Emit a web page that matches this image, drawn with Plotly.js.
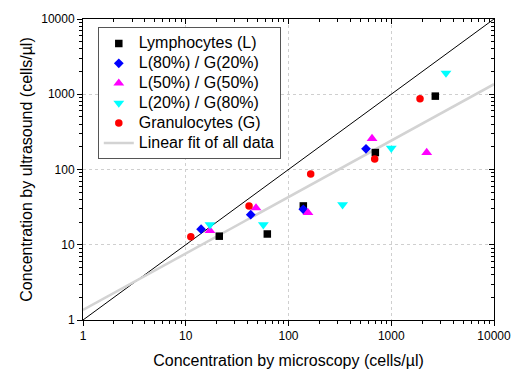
<!DOCTYPE html>
<html>
<head>
<meta charset="utf-8">
<script src="https://cdn.plot.ly/plotly-3.0.1.min.js"></script>
<style>html,body{margin:0;padding:0;background:#fff;}#chart{width:512px;height:369px;}</style>
</head>
<body>
<div id="chart"></div>
<script>
// Series data (microscopy x, ultrasound y), cells/µl
const lymphX = [21.2, 62.2, 139.4, 700, 2684];
const lymphY = [13.0, 13.9, 32.8, 168, 944];
const l80X = [14.1, 42.9, 139.4, 568];
const l80Y = [16.1, 25.1, 29.6, 188];
const l50X = [17.2, 48.3, 154.8, 650, 2213];
const l50Y = [15.4, 30.9, 26.7, 258, 168];
const l20X = [17.2, 56.9, 336, 1000, 3410];
const l20Y = [18.5, 18.5, 34.1, 192, 1909];
const granX = [11.2, 41.3, 164.5, 690, 1905];
const granY = [12.8, 32.8, 87.4, 138, 869];
// Linear fit of all data (end points) and identity line
const fitX = [1, 10000];
const fitY = [1.36, 1360];
const idX = [1, 10000];
const idY = [1, 10000];
// Tick positions and labels
const majorTicks = [1, 10, 100, 1000, 10000];
const majorLabels = ['1', '10', '100', '1000', '10000'];
const minorTicks = [2, 3, 4, 5, 6, 7, 8, 9,
                    20, 30, 40, 50, 60, 70, 80, 90,
                    200, 300, 400, 500, 600, 700, 800, 900,
                    2000, 3000, 4000, 5000, 6000, 7000, 8000, 9000];
const names = ['Lymphocytes (L)', 'L(80%) / G(20%)', 'L(50%) / G(50%)',
               'L(20%) / G(80%)', 'Granulocytes (G)', 'Linear fit of all data'];

const FONT = 'Liberation Sans, Arial, sans-serif';
const lg = s => '<span style="font-size:16px">' + s + '</span>';

const traces = [
  {x: idX, y: idY, mode: 'lines', line: {color: '#000', width: 1}, showlegend: false, hoverinfo: 'skip'},
  {x: fitX, y: fitY, mode: 'lines', name: lg(names[5]), legendrank: 6, line: {color: '#d3d3d3', width: 2.5}, hoverinfo: 'skip'},
  {x: lymphX, y: lymphY, mode: 'markers', name: lg(names[0]), legendrank: 1, marker: {symbol: 'square', color: '#000', size: 7.5}},
  {x: l80X, y: l80Y, mode: 'markers', name: lg(names[1]), legendrank: 2, marker: {symbol: 'diamond', color: '#0000ff', size: 7.5}},
  {x: l50X, y: l50Y, mode: 'markers', name: lg(names[2]), legendrank: 3, marker: {symbol: 'triangle-up', color: '#ff00ff', size: 9.5}},
  {x: l20X, y: l20Y, mode: 'markers', name: lg(names[3]), legendrank: 4, marker: {symbol: 'triangle-down', color: '#00ffff', size: 9.5}},
  {x: granX, y: granY, mode: 'markers', name: lg(names[4]), legendrank: 5, marker: {symbol: 'circle', color: '#ff0000', size: 7.5}},
  {x: [1], y: [1], xaxis: 'x2', yaxis: 'y2', mode: 'markers', marker: {opacity: 0}, showlegend: false, hoverinfo: 'skip'},
  {x: [1], y: [1], xaxis: 'x3', yaxis: 'y3', mode: 'markers', marker: {opacity: 0}, showlegend: false, hoverinfo: 'skip'},
  {x: [1], y: [1], xaxis: 'x4', yaxis: 'y4', mode: 'markers', marker: {opacity: 0}, showlegend: false, hoverinfo: 'skip'}
];

const tickAxis = (extra) => Object.assign({
  type: 'log', range: [0, 4], showgrid: false, zeroline: false,
  tickcolor: '#000', tickwidth: 1, showticklabels: false
}, extra);

const layout = {
  width: 512, height: 369,
  margin: {l: 83, r: 18, t: 19, b: 49},
  paper_bgcolor: '#fff', plot_bgcolor: '#fff',
  showlegend: true,
  legend: {
    x: 0.036, y: 0.972, xanchor: 'left', yanchor: 'top',
    bgcolor: '#fff', bordercolor: '#555', borderwidth: 1,
    font: {family: FONT, size: 13, color: '#000'},
    tracegroupgap: 0, itemwidth: 30
  },
  xaxis: tickAxis({
    showline: true, linecolor: '#000', linewidth: 1,
    showgrid: true, gridcolor: '#cfcfcf', griddash: 'dot', gridwidth: 1,
    tickmode: 'array', tickvals: majorTicks, ticktext: majorLabels, showticklabels: true,
    ticks: 'outside', ticklen: 5,
    tickfont: {family: FONT, size: 12, color: '#000'},
    title: {text: 'Concentration by microscopy (cells/µl)', font: {family: FONT, size: 16, color: '#000'}}
  }),
  yaxis: tickAxis({
    showline: true, linecolor: '#000', linewidth: 1,
    showgrid: true, gridcolor: '#cfcfcf', griddash: 'dot', gridwidth: 1,
    tickmode: 'array', tickvals: majorTicks, ticktext: majorLabels, showticklabels: true,
    ticks: 'outside', ticklen: 5,
    tickfont: {family: FONT, size: 12, color: '#000'},
    title: {text: 'Concentration by ultrasound (cells/µl)', font: {family: FONT, size: 16, color: '#000'}, standoff: 4}
  }),
  xaxis2: tickAxis({overlaying: 'x', side: 'top', anchor: 'y2', showline: true, linecolor: '#000', linewidth: 1,
    tickmode: 'array', tickvals: majorTicks, ticks: 'inside', ticklen: 5}),
  yaxis2: tickAxis({overlaying: 'y', side: 'right', anchor: 'x2', showline: true, linecolor: '#000', linewidth: 1,
    tickmode: 'array', tickvals: majorTicks, ticks: 'inside', ticklen: 5}),
  xaxis3: tickAxis({overlaying: 'x', side: 'bottom', anchor: 'y3', showline: false,
    tickmode: 'array', tickvals: minorTicks, ticks: 'outside', ticklen: 3}),
  yaxis3: tickAxis({overlaying: 'y', side: 'left', anchor: 'x3', showline: false,
    tickmode: 'array', tickvals: minorTicks, ticks: 'outside', ticklen: 3}),
  xaxis4: tickAxis({overlaying: 'x', side: 'top', anchor: 'y4', showline: false,
    tickmode: 'array', tickvals: minorTicks, ticks: 'inside', ticklen: 3}),
  yaxis4: tickAxis({overlaying: 'y', side: 'right', anchor: 'x4', showline: false,
    tickmode: 'array', tickvals: minorTicks, ticks: 'inside', ticklen: 3})
};

Plotly.newPlot('chart', traces, layout, {displayModeBar: false, staticPlot: true});
</script>
</body>
</html>
